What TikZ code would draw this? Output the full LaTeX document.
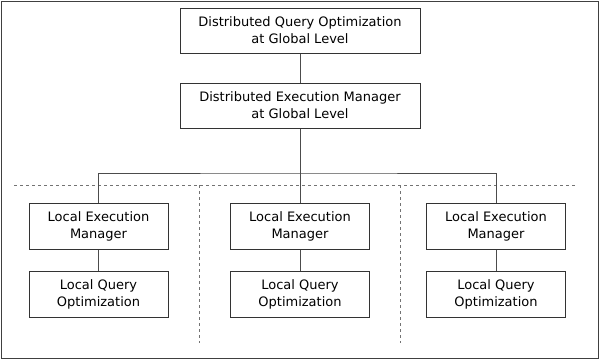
\documentclass[tikz,border=0pt]{standalone}
\usepackage{fontspec}
\setmainfont{DejaVu Sans}
\begin{document}
\begin{tikzpicture}[x=1pt,y=-1pt,
  box/.style={draw=black!80, line width=1pt, fill=white, minimum width=139pt, minimum height=46pt, align=center, font=\fontsize{13}{17}\selectfont, inner sep=0pt},
  bigbox/.style={box, minimum width=240pt, minimum height=45pt},
  conn/.style={draw=black!70, line width=1pt},
  sep/.style={draw=black!55, line width=1pt, dash pattern=on 3pt off 3pt}]
\useasboundingbox (0,0) rectangle (600,360);
\draw[black!75, line width=1pt] (1,1) rectangle (598,358);
\node[bigbox] (dqo) at (300,30.5) {Distributed Query Optimization\\at Global Level};
\node[bigbox] (dem) at (300,105.5) {Distributed Execution Manager\\at Global Level};
\node[box] (lem1) at (98.5,226) {Local Execution\\Manager};
\node[box] (lem2) at (300,226) {Local Execution\\Manager};
\node[box] (lem3) at (496,226) {Local Execution\\Manager};
\node[box] (lqo1) at (98.5,294.5) {Local Query\\Optimization};
\node[box] (lqo2) at (300,294.5) {Local Query\\Optimization};
\node[box] (lqo3) at (496,294.5) {Local Query\\Optimization};
\coordinate (bus) at (300,173);
\coordinate (dl) at (14,185);
\coordinate (dr) at (577,185);
\coordinate (v1t) at (199,185);
\coordinate (v1b) at (199,343);
\coordinate (v2t) at (400,185);
\coordinate (v2b) at (400,343);
\draw[sep] (dl) -- (dr);
\draw[sep] (v1t) -- (v1b);
\draw[sep] (v2t) -- (v2b);
\draw[conn] (dqo) -- (dem);
\draw[conn] (dem) -- (bus);
\draw[conn] (lem1.north) |- (bus) -| (lem3.north);
\draw[conn] (bus) -- (lem2.north);
\draw[conn] (lem1) -- (lqo1);
\draw[conn] (lem2) -- (lqo2);
\draw[conn] (lem3) -- (lqo3);
\end{tikzpicture}
\end{document}
